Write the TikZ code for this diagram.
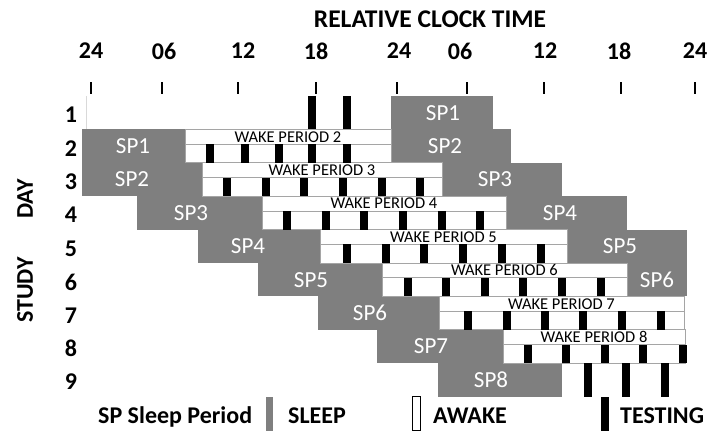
\documentclass[tikz,border=0pt]{standalone}
\usepackage{fontspec}
\setmainfont{Carlito}
\definecolor{sleepgray}{RGB}{127,127,127}
\definecolor{edgegray}{RGB}{165,165,165}
\begin{document}
\begin{tikzpicture}[x=1pt,y=-1pt,
    hdr/.style={font=\fontsize{24}{28}\selectfont\bfseries,inner sep=0pt},
    splabel/.style={text=white,font=\fontsize{23}{27}\selectfont,inner sep=0pt},
    wplabel/.style={font=\fontsize{16.5}{19}\selectfont,inner sep=0pt},
    wakebox/.style={fill=white,draw=edgegray,line width=0.8pt},
    testbar/.style={fill=black}]
  \useasboundingbox (0,0) rectangle (708,431);
  \node[hdr,font=\fontsize{25.5}{30}\selectfont\bfseries] (title) at (430,19) {RELATIVE CLOCK TIME};
  \draw[hdr]
    (91,51) node (h0){24}
    (164,51) node (h1){06}
    (243,51) node (h2){12}
    (316,51) node (h3){18}
    (399,51) node (h4){24}
    (460,51) node (h5){06}
    (545,51) node (h6){12}
    (619,51) node (h7){18}
    (695,51) node (h8){24};
  \foreach \x in {91,162,238,316,397,467,544,621,695}
    \draw[line width=1.8pt] (\x,82) -- (\x,94);
  \draw[gray!30] (86,96) -- (86,129);
  \foreach \r/\a/\b in {1/391/493,2/82/185,2/391/511,3/82/202,3/442/562,4/137/262,4/506/627,
                        5/198/320,5/567/687,6/258/382,6/627/687,7/318/439,8/377/503,9/438/562}
    \fill[sleepgray] (\a,{62.6+33.4*\r}) rectangle (\b,{96+33.4*\r});
  \foreach \r/\x/\n in {1/443/1,2/133/1,2/445/2,3/132/2,3/495/3,4/191/3,4/560/4,
                        5/248/4,5/620/5,6/311/5,6/657/6,7/370/6,8/431/7,9/491/8}
    \node[splabel] (sp\n-\r) at (\x,{79.3+33.4*\r}) {SP\n};
  \foreach \r/\a/\b in {2/185/391,3/202/442,4/262/506,5/320/567,6/382/627,7/439/684,8/503/685}{
    \draw[wakebox] (\a,{62.6+33.4*\r}) rectangle (\b,{77.4+33.4*\r});
    \draw[wakebox] (\a,{77.4+33.4*\r}) rectangle (\b,{96+33.4*\r});
    \node[wplabel] (wp\r) at ({(\a+\b)/2},{70+33.4*\r}) {WAKE PERIOD \r};
  }
  \foreach \r/\xs in {2/{210,245,279,312,347},3/{227,266,304,343,382,420},
                      4/{287,326,364,403,442,480},5/{347,386,424,463,502,541},
                      6/{408,446,485,523,562,601},7/{468,507,545,583,622,661},
                      8/{528,566,605,643,683}}
    \foreach \x in \xs
      \fill[testbar] ({\x-4},{77.4+33.4*\r}) rectangle ({\x+4},{96+33.4*\r});
  \foreach \r/\x in {1/312,1/347,9/588,9/626,9/665}
    \fill[testbar] ({\x-4},{62.6+33.4*\r}) rectangle ({\x+4},{96+33.4*\r});
  \foreach \r in {1,...,9}
    \node[hdr] (d\r) at (71,{81.5+33.4*\r}) {\r};
  \node[hdr,rotate=90] (day) at (25,199) {DAY};
  \node[hdr,rotate=90] (study) at (25,290) {STUDY};
  \node[hdr,anchor=base west] (legsp) at (98,423) {SP Sleep Period};
  \fill[sleepgray] (266,397) rectangle (273,431);
  \node[hdr,anchor=base west] (legsleep) at (288,423) {SLEEP};
  \draw[fill=white,line width=0.8pt] (412.5,396.5) rectangle (420.5,430);
  \node[hdr,anchor=base west] (legawake) at (433,423) {AWAKE};
  \fill[testbar] (601,397) rectangle (609,431);
  \node[hdr,anchor=base west] (legtest) at (620,423) {TESTING};
\end{tikzpicture}
\end{document}
